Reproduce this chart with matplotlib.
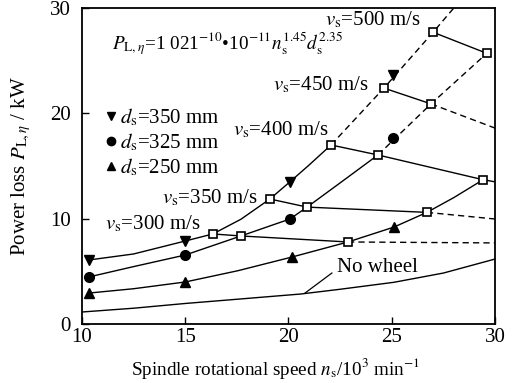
import matplotlib
matplotlib.use("Agg")
import matplotlib.pyplot as plt
from matplotlib.lines import Line2D

plt.rcParams['font.family'] = ['Liberation Serif', 'DejaVu Serif']
plt.rcParams['mathtext.fontset'] = 'stix'

# ---- data ----
# grinding wheel diameter curves (solid part, marker points and dashed extension)
d350_x = [10.34, 12.5, 15.0, 16.34, 17.7, 19.1, 20.07, 21.0, 22.06]
d350_y = [6.08, 6.65, 7.88, 8.55, 9.95, 11.87, 13.5, 15.1, 17.0]
d350_dx = [22.06, 24.62, 27.0, 28.0]
d350_dy = [17.0, 22.4, 27.7, 30.0]
d350_mx = [10.34, 15.0, 20.07, 25.06]
d350_my = [6.08, 7.88, 13.5, 23.6]

d325_x = [10.34, 12.5, 15.0, 17.7, 20.07, 20.9, 22.5, 24.33]
d325_y = [4.47, 5.45, 6.55, 8.36, 9.97, 11.1, 13.4, 16.05]
d325_dx = [24.33, 26.9, 29.6]
d325_dy = [16.05, 20.9, 25.7]
d325_mx = [10.34, 15.0, 20.07, 25.06]
d325_my = [4.47, 6.55, 9.97, 17.7]

d250_x = [10.34, 12.5, 15.0, 17.55, 20.17, 22.88, 25.1, 26.7, 28.0, 29.42]
d250_y = [2.94, 3.35, 3.99, 5.06, 6.36, 7.79, 9.2, 10.6, 12.0, 13.7]
d250_mx = [10.34, 15.0, 20.17, 25.1]
d250_my = [2.94, 3.99, 6.36, 9.2]

# no wheel
nw_x = [10.0, 12.5, 15.0, 17.5, 20.6, 22.5, 25.1, 27.5, 30.0]
nw_y = [1.14, 1.5, 1.95, 2.35, 2.85, 3.3, 3.96, 4.84, 6.17]

# constant peripheral speed lines (squares on solid part, dashed extension)
v300_x = [16.34, 17.7, 22.88]
v300_y = [8.55, 8.36, 7.79]
v300_dx = [22.88, 30.0]
v300_dy = [7.79, 7.7]

v350_x = [19.1, 20.9, 26.7]
v350_y = [11.87, 11.1, 10.6]
v350_dx = [26.7, 30.0]
v350_dy = [10.6, 9.97]

v400_x = [22.06, 24.33, 29.42, 30.0]
v400_y = [17.0, 16.05, 13.7, 13.5]
v400_sq = 3

v450_x = [24.62, 26.9]
v450_y = [22.4, 20.9]
v450_dx = [26.9, 30.0]
v450_dy = [20.9, 18.6]

v500_x = [27.0, 29.6]
v500_y = [27.7, 25.7]

x_ticks = [10, 15, 20, 25, 30]
y_ticks = [0, 10, 20, 30]

# ---- figure ----
fig = plt.figure(figsize=(5.25, 3.83), dpi=100)
ax = fig.add_axes([0.156, 0.154, 0.787, 0.825])

lw = 1.0
dash = (0, (4.5, 3))
k = 'black'

# diameter curves
for xs, ys in [(d350_x, d350_y), (d325_x, d325_y), (d250_x, d250_y), (nw_x, nw_y)]:
    ax.plot(xs, ys, color=k, lw=lw, zorder=2)
for xs, ys in [(d350_dx, d350_dy), (d325_dx, d325_dy)]:
    ax.plot(xs, ys, color=k, lw=lw, ls=dash, zorder=2)

# speed lines
for xs, ys in [(v300_x, v300_y), (v350_x, v350_y), (v400_x, v400_y), (v450_x, v450_y), (v500_x, v500_y)]:
    ax.plot(xs, ys, color=k, lw=lw, zorder=2)
for xs, ys in [(v300_dx, v300_dy), (v350_dx, v350_dy), (v450_dx, v450_dy)]:
    ax.plot(xs, ys, color=k, lw=lw, ls=dash, zorder=2)

# square markers
sq_kw = dict(ls='none', marker='s', ms=5.8, mfc='white', mec=k, mew=1.2, zorder=4)
ax.plot(v300_x, v300_y, **sq_kw)
ax.plot(v350_x, v350_y, **sq_kw)
ax.plot(v400_x[:v400_sq], v400_y[:v400_sq], **sq_kw)
ax.plot(v450_x, v450_y, **sq_kw)
ax.plot(v500_x, v500_y, **sq_kw)

# filled markers
ax.plot(d350_mx, d350_my, ls='none', marker='v', ms=7.5, color=k, zorder=3)
ax.plot(d325_mx, d325_my, ls='none', marker='o', ms=7, color=k, zorder=3)
ax.plot(d250_mx, d250_my, ls='none', marker='^', ms=7.5, color=k, zorder=3)

# annotations
fs = 15
ax.text(21.75, 28.9, r'$v_{\mathrm{s}}$=500 m/s', fontsize=fs, va='center')
ax.text(19.25, 22.7, r'$v_{\mathrm{s}}$=450 m/s', fontsize=fs, va='center')
ax.text(17.3, 18.4, r'$v_{\mathrm{s}}$=400 m/s', fontsize=fs, va='center')
ax.text(13.9, 12.0, r'$v_{\mathrm{s}}$=350 m/s', fontsize=fs, va='center')
ax.text(11.1, 9.5, r'$v_{\mathrm{s}}$=300 m/s', fontsize=fs, va='center')
ax.text(11.45, 26.6,
        r'$P_{\mathrm{L},\eta}$=1 021$^{-10}$•10$^{-11}$$n_{\mathrm{s}}^{1.45}d_{\mathrm{s}}^{2.35}$',
        fontsize=13.8, va='center')
ax.text(22.35, 5.4, 'No wheel', fontsize=fs, va='center')
ax.plot([20.8, 22.1], [2.94, 4.84], color=k, lw=0.9)

# legend
handles = [Line2D([], [], ls='none', marker='v', ms=6, color=k),
           Line2D([], [], ls='none', marker='o', ms=6, color=k),
           Line2D([], [], ls='none', marker='^', ms=6, color=k)]
labels = [r'$d_{\mathrm{s}}$=350 mm', r'$d_{\mathrm{s}}$=325 mm', r'$d_{\mathrm{s}}$=250 mm']
ax.legend(handles, labels, loc='upper left', bbox_to_anchor=(0.022, 0.735),
          frameon=False, fontsize=fs, handlelength=0.5, handletextpad=0.2,
          labelspacing=0.16, borderaxespad=0.3)

ax.set_xlim(10, 30)
ax.set_ylim(0, 30)
ax.set_xticks(x_ticks)
ax.set_yticks(y_ticks)
ax.tick_params(direction='in', length=5, width=1, labelsize=fs, top=False, right=False)
ax.tick_params(axis='y', pad=8)
ax.tick_params(axis='x', pad=3)
for s in ax.spines.values():
    s.set_linewidth(1.3)
ax.set_xlabel(r'Spindle rotational speed $n_{\mathrm{s}}$/10$^3$ min$^{-1}$', fontsize=13.8, labelpad=6)
ax.xaxis.label.set_x(0.468)
ax.set_ylabel(r'Power loss $P_{\mathrm{L},\eta}$ / kW', fontsize=15, labelpad=12)

fig.savefig('out.png', dpi=100)
